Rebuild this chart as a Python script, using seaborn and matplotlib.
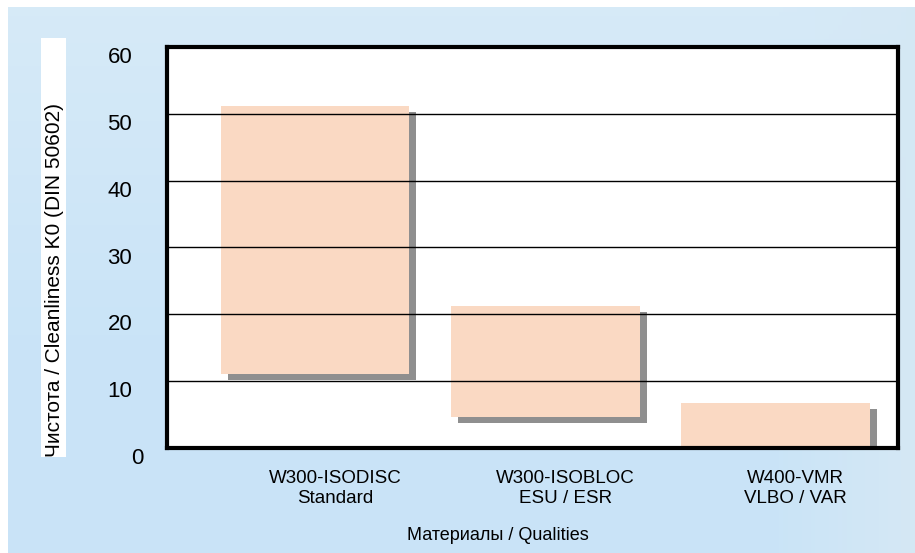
import numpy as np
import pandas as pd
import matplotlib
matplotlib.use("Agg")
import matplotlib.pyplot as plt
import matplotlib.transforms as mtransforms
from matplotlib.patches import Rectangle
import seaborn as sns

# ---- data ----
qualities = ["W300-ISODISC\nStandard", "W300-ISOBLOC\nESU / ESR", "W400-VMR\nVLBO / VAR"]
k0_low = [11.1, 4.7, 0.0]
k0_high = [51.2, 21.2, 6.7]
y_ticks = [0, 10, 20, 30, 40, 50, 60]
y_label = "Чистота / Cleanliness K0 (DIN 50602)"
x_label = "Материалы / Qualities"

df = pd.DataFrame({"quality": qualities, "low": k0_low, "high": k0_high})
df["span"] = df["high"] - df["low"]

sns.set_theme(style="white")
plt.rcParams["font.family"] = ["Liberation Sans", "DejaVu Sans"]

W, H, DPI = 915, 553, 100
fig = plt.figure(figsize=(W / DPI, H / DPI), dpi=DPI, facecolor="white")

# ---- light-blue background panel (gradient) ----
bg = fig.add_axes([8 / W, 0, (W - 8) / W, (H - 7) / H], zorder=-10)
ny, nx = 120, 200
t = np.linspace(0, 1, ny)[:, None]
s = np.linspace(0, 1, nx)[None, :]
top = np.array([0.840, 0.918, 0.972])
bot = np.array([0.792, 0.894, 0.969])
right = np.array([0.835, 0.910, 0.960])
w = np.clip(t / 0.6, 0, 1)[..., None]
vert = top[None, None, :] * (1 - w) + bot[None, None, :] * w
vert = np.broadcast_to(vert, (ny, nx, 3))
hw = np.clip((s - 0.85) / 0.15, 0, 1)[..., None]
img = vert * (1 - hw) + right[None, None, :] * hw
bg.imshow(img, aspect="auto", extent=[0, 1, 0, 1], origin="upper")
bg.axis("off")

# white strip behind y label
fig.patches.append(Rectangle((41 / W, 1 - 457 / H), 25 / W, 419 / H,
                             transform=fig.transFigure, facecolor="white",
                             edgecolor="none", zorder=-5))

# ---- main axes ----
ax = fig.add_axes([167 / W, 1 - 448 / H, 731 / W, 401 / H])
ax.set_facecolor("white")

# shadow bars
sns.barplot(data=df, x="quality", y="span", bottom=df["low"].to_numpy(),
            color="#8F8F8F", saturation=1, width=0.82, errorbar=None, ax=ax)
shadow_off = mtransforms.ScaledTranslation(0.07, -0.06, fig.dpi_scale_trans)
for p in list(ax.patches):
    p.set_transform(ax.transData + shadow_off)
    p.set_linewidth(0)

# main floating bars
sns.barplot(data=df, x="quality", y="span", bottom=df["low"].to_numpy(),
            color="#FAD9C3", saturation=1, width=0.82, errorbar=None, ax=ax)
for p in ax.patches:
    p.set_linewidth(0)

ax.set_xlim(-0.643, 2.532)
ax.set_ylim(0, 60)
ax.set_yticks(y_ticks)
ax.grid(axis="y", color="black", linewidth=1.0)
ax.grid(axis="x", visible=False)
ax.set_axisbelow(False)

for sp in ax.spines.values():
    sp.set_visible(True)
    sp.set_color("black")
    sp.set_linewidth(3)
    sp.set_zorder(3)

ax.tick_params(axis="y", length=0, pad=25, labelsize=16, labelcolor="black")
ax.tick_params(axis="x", length=0, pad=16, labelsize=13.5, labelcolor="black")

ydown = mtransforms.ScaledTranslation(0, -0.08, fig.dpi_scale_trans)
for lab in ax.get_yticklabels():
    extra = ydown
    if lab.get_text() == "0":
        extra = mtransforms.ScaledTranslation(0.11, -0.08, fig.dpi_scale_trans)
    lab.set_transform(lab.get_transform() + extra)
xshift = mtransforms.ScaledTranslation(0.20, 0, fig.dpi_scale_trans)
for lab in ax.get_xticklabels():
    lab.set_transform(lab.get_transform() + xshift)
    lab.set_multialignment("center")
    lab.set_linespacing(1.2)

ax.set_xlabel(x_label, fontsize=13, color="black")
ax.xaxis.set_label_coords(0.453, -0.217)
ax.xaxis.label.set_va("center")

ax.set_ylabel(y_label, fontsize=15, color="black", ha="left", va="center")
ax.yaxis.set_label_coords(-0.154, -0.022)

fig.savefig("out.png", dpi=DPI)
